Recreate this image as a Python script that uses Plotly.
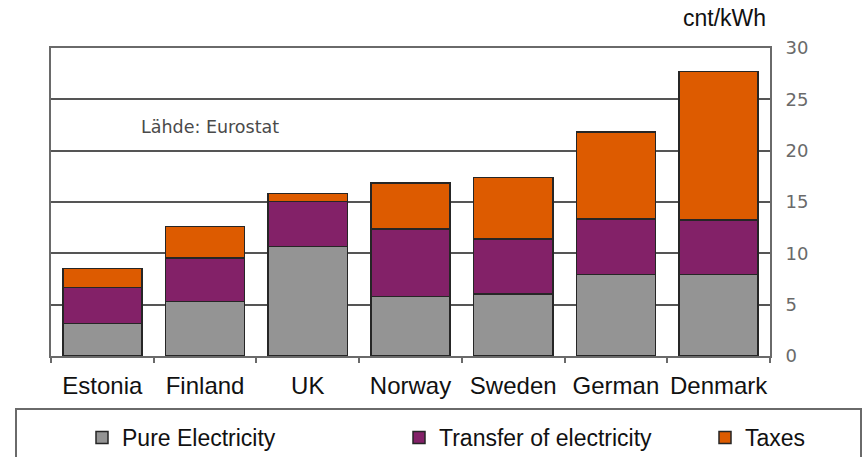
import plotly.graph_objects as go

countries = ["Estonia", "Finland", "UK", "Norway", "Sweden", "German", "Denmark"]
pure_electricity = [3.15, 5.3, 10.65, 5.8, 6.05, 7.95, 7.95]
transfer = [3.5, 4.25, 4.4, 6.55, 5.35, 5.4, 5.3]
taxes = [1.85, 3.05, 0.8, 4.5, 6.0, 8.45, 14.45]
y_ticks = [0, 5, 10, 15, 20, 25, 30]

series = [
    ("Pure Electricity", pure_electricity, "#949494", "legend"),
    ("Transfer of electricity", transfer, "#832168", "legend2"),
    ("Taxes", taxes, "#DD5B00", "legend3"),
]

fig = go.Figure()
for name, vals, col, lg in series:
    fig.add_trace(go.Bar(
        x=countries, y=vals, name=name, legend=lg,
        marker=dict(color=col, line=dict(color="#262626", width=1.5)),
    ))

W, H = 863, 457
ml, mr, mt, mb = 51, 93, 48, 101
pw, ph = W - ml - mr, H - mt - mb


def px_x(x):
    return (x - ml) / pw


def px_y(y):
    return (H - mb - y) / ph


def legend_at(xpx):
    return dict(
        orientation="h", x=px_x(xpx), xanchor="left",
        y=px_y(416), yanchor="top",
        font=dict(size=23, family="Liberation Sans, Arial", color="#111111"),
        borderwidth=0, bgcolor="rgba(0,0,0,0)",
    )


fig.update_layout(
    width=W, height=H,
    margin=dict(l=ml, r=mr, t=mt, b=mb, autoexpand=False),
    barmode="stack", bargap=0.23,
    plot_bgcolor="white", paper_bgcolor="white",
    font=dict(family="Liberation Sans, Arial", color="#000000"),
    showlegend=True,
    legend=legend_at(82),
    legend2=legend_at(399),
    legend3=legend_at(705),
    xaxis=dict(
        showline=True, mirror=True, linecolor="#6a6a6a", linewidth=2,
        ticks="outside", tickson="boundaries", ticklen=5, tickcolor="#6a6a6a", tickwidth=1.5,
        tickfont=dict(size=24, family="Liberation Sans, Arial", color="#111111"),
        tickangle=0, automargin=False,
        ticklabelstandoff=7,
        showgrid=False,
    ),
    yaxis=dict(
        side="right", range=[0, 30], tickvals=y_ticks,
        showline=True, mirror=True, linecolor="#6a6a6a", linewidth=2,
        showgrid=True, gridcolor="#555555", gridwidth=1.5,
        ticks="", ticklabelstandoff=10, automargin=False,
        tickfont=dict(size=18, family="DejaVu Sans, Verdana", color="#6a6a6a"),
        zeroline=False,
    ),
)

fig.add_annotation(
    text="Lähde: Eurostat", xref="paper", yref="paper",
    x=px_x(139), y=px_y(127),
    xanchor="left", yanchor="middle", showarrow=False,
    font=dict(size=17.5, family="DejaVu Sans, Verdana", color="#4a4a4a"),
)
fig.add_annotation(
    text="cnt/kWh", xref="paper", yref="paper",
    x=px_x(724), y=px_y(18),
    xanchor="center", yanchor="middle", showarrow=False,
    font=dict(size=23, family="Liberation Sans, Arial", color="#111111"),
)
# legend border box
fig.add_shape(
    type="rect", xref="paper", yref="paper",
    x0=px_x(16), x1=px_x(861),
    y0=px_y(470), y1=px_y(409),
    line=dict(color="#6a6a6a", width=2), fillcolor="rgba(0,0,0,0)",
)

fig.write_html("out.html")
